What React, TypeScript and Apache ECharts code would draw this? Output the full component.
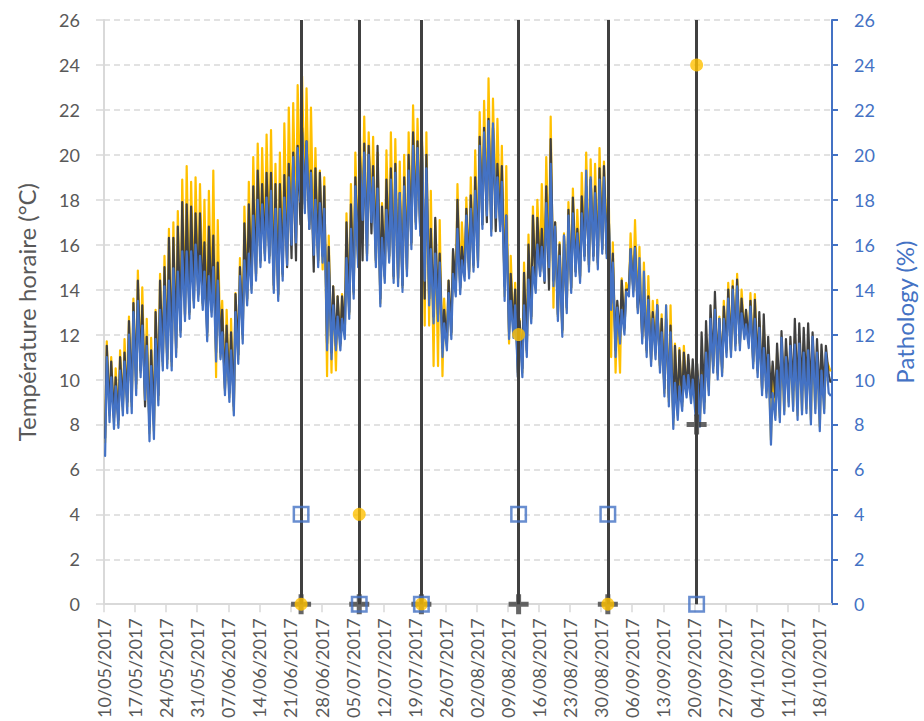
import React, { useEffect, useRef } from "react";
import * as echarts from "echarts";

// Start of the record: 10/05/2017 (day index 0)
const START_UTC = Date.UTC(2017, 4, 10);
const DAY_MS = 86400000;
const X_MAX_DAY = 164;
const TICK_DAYS = 7;

// Daily readings (°C), one value per day: dawn (~06:00) and afternoon (~15:00)
const yellowDawn = [
  7.2, 8.4, 8.1, 8.0, 8.6, 8.8, 8.8, 9.6, 10.3, 9.0,
  7.6, 7.7, 9.1, 10.6, 10.7, 10.6, 11.2, 12.1, 12.8, 12.9,
  13.4, 13.7, 13.3, 11.9, 13.0, 10.1, 11.0, 9.5, 9.2, 8.6,
  10.9, 11.8, 13.5, 14.0, 14.6, 15.2, 15.5, 15.4, 14.0, 13.7,
  14.6, 15.3, 16.2, 16.3, 18.1, 17.6, 16.9, 15.7, 15.2, 14.9,
  10.15, 10.3, 10.4, 11.5, 12.0, 12.9, 13.8, 15.2, 17.3, 15.5,
  17.2, 15.2, 13.4, 14.5, 15.4, 14.5, 14.3, 14.1, 14.8, 16.0,
  16.9, 16.6, 12.4, 12.4, 10.6, 10.6, 10.15, 11.5, 12.0, 13.9,
  14.0, 14.6, 14.7, 15.0, 15.2, 16.9, 17.5, 16.6, 17.4, 16.8,
  13.7, 11.6, 12.0, 10.3, 10.3, 11.2, 12.7, 14.0, 14.8, 14.6,
  15.2, 13.2, 12.8, 12.1, 13.1, 14.0, 14.8, 14.5, 15.5, 15.0,
  15.5, 15.1, 15.8, 15.6, 11.0, 10.3, 10.3, 12.2, 13.9, 13.9,
  13.1, 11.8, 11.2, 10.8, 11.1, 10.5, 9.4, 9.0, 8.0, 8.4,
  8.8, 9.4, 9.1, 8.6, 8.1, 8.7, 9.5, 10.5, 10.2, 10.3,
  11.2, 11.2, 11.5, 11.5, 12.0, 11.6, 10.7, 10.3, 9.5, 9.4,
  7.3, 8.4, 8.3, 8.6, 9.0, 8.8, 8.4, 8.6, 8.7, 8.2,
  8.7, 7.9, 8.7, 10.6,
];
const yellowAfternoon = [
  11.7, 11.0, 10.5, 11.3, 11.8, 12.8, 13.6, 14.85, 14.1, 12.7,
  11.85, 13.1, 14.7, 15.5, 16.7, 17.0, 17.5, 18.9, 19.5, 18.8,
  19.0, 18.7, 18.0, 18.4, 19.3, 17.1, 13.5, 13.1, 12.7, 13.85,
  15.4, 17.7, 18.8, 19.9, 20.5, 20.3, 20.9, 21.1, 19.6, 20.1,
  21.4, 22.1, 22.3, 23.1, 23.5, 22.96, 22.1, 20.3, 19.3, 19.0,
  16.4, 14.15, 13.7, 13.8, 17.4, 18.7, 20.1, 21.0, 21.7, 21.0,
  20.8, 20.1, 17.85, 20.2, 21.0, 20.7, 19.7, 20.0, 21.0, 22.2,
  21.6, 21.0, 21.0, 18.4, 17.1, 17.1, 13.6, 14.4, 15.7, 18.7,
  17.0, 18.1, 19.0, 20.2, 21.9, 22.4, 23.4, 22.5, 21.6, 20.4,
  19.5, 15.5, 14.3, 12.7, 15.2, 16.45, 17.7, 18.0, 18.7, 19.9,
  21.7, 17.0, 16.1, 16.5, 17.9, 18.5, 17.55, 19.2, 20.1, 19.8,
  19.6, 20.3, 19.7, 19.3, 16.1, 13.3, 14.5, 14.3, 16.5, 17.1,
  15.9, 15.2, 14.6, 13.5, 13.55, 12.9, 13.3, 13.3, 11.6, 11.4,
  11.5, 10.9, 10.5, 10.4, 11.0, 11.6, 12.6, 13.3, 12.8, 13.5,
  14.3, 14.4, 14.7, 14.0, 13.1, 13.85, 13.8, 12.6, 12.4, 11.5,
  10.6, 11.2, 11.5, 11.3, 11.5, 11.8, 11.7, 11.6, 11.7, 11.5,
  11.3, 11.0, 10.9, 10.4,
];
const blackDawn = [
  7.4, 8.6, 8.3, 8.2, 8.8, 9.0, 9.0, 9.8, 10.4, 8.8,
  7.9, 8.0, 9.3, 10.8, 10.9, 10.8, 11.4, 12.2, 12.9, 13.0,
  13.5, 13.8, 13.4, 12.1, 13.1, 11.2, 11.2, 9.6, 9.4, 8.8,
  11.1, 12.0, 13.6, 14.2, 14.7, 15.3, 15.6, 15.5, 14.2, 13.8,
  14.7, 15.0, 15.4, 15.3, 16.9, 17.8, 16.7, 14.8, 15.3, 15.5,
  11.6, 11.2, 11.5, 11.6, 12.1, 13.0, 13.9, 15.3, 15.3, 15.6,
  16.5, 15.3, 13.6, 14.6, 15.5, 14.6, 14.5, 14.2, 14.9, 16.1,
  17.0, 16.6, 13.6, 13.6, 12.8, 12.9, 11.4, 11.6, 12.1, 14.0,
  14.1, 14.7, 14.8, 15.1, 15.3, 16.9, 17.0, 16.7, 16.6, 16.9,
  14.15, 12.1, 12.1, 10.1, 10.5, 11.3, 12.8, 14.1, 14.8, 14.3,
  14.0, 14.4, 12.9, 12.2, 13.2, 14.1, 14.8, 14.6, 15.5, 15.1,
  15.5, 15.2, 15.8, 15.6, 13.4, 11.3, 11.9, 12.3, 14.0, 14.0,
  13.2, 11.9, 11.3, 10.9, 11.2, 10.6, 9.6, 9.2, 8.3, 8.7,
  9.0, 9.5, 9.3, 8.9, 8.5, 9.0, 9.7, 10.6, 10.3, 10.5,
  11.3, 11.3, 11.6, 11.6, 12.0, 11.7, 10.8, 10.4, 9.6, 9.5,
  9.2, 9.2, 9.3, 9.4, 9.6, 9.5, 9.3, 9.5, 9.6, 9.3,
  9.5, 9.2, 9.6, 10.2,
];
const blackAfternoon = [
  11.5, 10.8, 10.1, 11.0, 11.2, 12.6, 13.4, 14.4, 13.3, 11.9,
  11.3, 13.0, 14.4, 15.0, 16.3, 16.3, 16.8, 17.9, 17.8, 17.7,
  17.4, 17.4, 16.1, 16.8, 16.4, 15.2, 13.1, 12.4, 12.1, 13.8,
  15.0, 16.95, 17.8, 18.6, 19.3, 18.7, 19.2, 19.2, 18.7, 18.7,
  19.1, 19.6, 20.1, 20.4, 21.2, 20.6, 19.3, 19.4, 19.2, 18.6,
  15.9, 14.15, 13.7, 13.7, 17.0, 17.8, 19.0, 20.2, 20.5, 20.4,
  19.5, 20.4, 17.7, 18.9, 19.4, 19.6, 18.3, 19.0, 20.0, 21.0,
  20.6, 20.6, 20.0, 16.7, 17.2, 15.6, 13.1, 14.4, 15.8, 18.0,
  15.9, 17.6, 18.2, 19.0, 20.8, 21.2, 21.6, 21.2, 19.6, 19.5,
  17.3, 14.7, 14.0, 12.6, 14.75, 16.0, 17.3, 17.2, 16.7, 18.6,
  20.7, 17.0, 16.0, 16.4, 17.55, 18.1, 16.7, 18.15, 18.6, 18.9,
  18.6, 19.4, 19.5, 17.85, 15.6, 13.5, 14.4, 14.0, 15.8, 15.9,
  14.4, 13.55, 13.7, 13.0, 13.3, 12.7, 12.7, 12.4, 11.5, 11.3,
  11.2, 11.1, 10.9, 10.7, 12.1, 12.6, 13.3, 13.9, 12.7, 13.25,
  14.0, 14.15, 14.45, 13.6, 13.1, 13.5, 13.55, 13.0, 12.9, 11.9,
  10.8, 11.6, 12.15, 11.8, 11.9, 12.7, 12.5, 12.3, 12.5, 12.1,
  11.8, 11.55, 11.5, 9.9,
];
const blueDawn = [
  6.6, 8.1, 7.8, 7.85, 8.4, 8.5, 8.5, 9.3, 10.1, 9.1,
  7.25, 7.35, 8.85, 10.4, 10.5, 10.4, 11.0, 11.9, 12.6, 12.7,
  13.2, 13.5, 13.1, 11.7, 12.8, 10.8, 10.9, 9.3, 9.0, 8.4,
  10.7, 11.6, 13.3, 13.85, 14.4, 15.0, 15.3, 15.2, 13.85, 13.5,
  14.4, 15.1, 16.0, 16.1, 17.9, 17.4, 16.7, 15.55, 15.0, 15.2,
  11.3, 10.9, 11.3, 11.3, 11.8, 12.7, 13.6, 15.0, 17.1, 15.3,
  17.0, 15.0, 13.25, 14.3, 15.2, 14.3, 14.15, 13.9, 14.6, 15.8,
  16.7, 16.4, 14.4, 13.3, 12.5, 12.6, 11.0, 11.3, 11.8, 13.7,
  13.8, 14.4, 14.5, 14.8, 15.0, 16.7, 17.3, 16.4, 17.2, 16.6,
  13.5, 11.8, 11.85, 10.1, 10.1, 11.0, 12.5, 13.85, 14.6, 14.4,
  15.0, 14.15, 12.6, 11.9, 12.95, 13.85, 14.6, 14.3, 15.3, 14.8,
  15.3, 14.9, 15.6, 15.4, 13.1, 11.0, 11.6, 12.0, 13.7, 13.7,
  12.95, 11.6, 11.0, 10.6, 10.9, 10.3, 9.25, 8.8, 7.8, 8.2,
  8.6, 9.2, 8.95, 8.4, 7.9, 8.5, 9.3, 10.3, 10.0, 10.15,
  11.0, 11.0, 11.3, 11.3, 11.8, 11.4, 10.5, 10.1, 9.3, 9.2,
  7.1, 8.2, 8.1, 8.45, 8.8, 8.6, 8.2, 8.45, 8.5, 8.0,
  8.5, 7.7, 8.5, 9.4,
];
const blueAfternoon = [
  11.0, 10.1, 9.7, 10.4, 10.8, 12.0, 13.0, 13.5, 12.4, 11.5,
  10.6, 11.8, 13.1, 14.15, 14.4, 14.95, 14.8, 15.7, 15.7, 15.7,
  16.0, 15.5, 14.8, 14.6, 15.0, 14.4, 12.1, 11.6, 11.3, 13.0,
  14.6, 15.3, 15.6, 17.3, 18.0, 17.8, 18.1, 18.4, 17.6, 17.6,
  18.1, 19.0, 19.9, 20.3, 21.0, 20.6, 19.2, 18.0, 17.85, 17.6,
  15.2, 13.3, 12.8, 12.7, 15.4, 16.7, 18.6, 19.8, 20.1, 20.0,
  19.0, 18.5, 16.3, 17.55, 18.9, 19.2, 18.3, 18.6, 19.3, 20.4,
  20.3, 20.4, 19.4, 15.8, 15.6, 15.2, 12.5, 13.85, 14.7, 16.7,
  15.3, 17.3, 17.6, 18.4, 20.4, 21.0, 21.5, 21.4, 19.0, 18.8,
  17.3, 13.5, 13.3, 12.2, 13.3, 14.45, 15.0, 16.0, 15.9, 17.85,
  19.6, 16.8, 15.5, 16.4, 17.3, 17.4, 16.5, 17.4, 19.3, 19.0,
  18.3, 18.9, 19.0, 17.9, 15.2, 13.2, 13.1, 13.9, 15.8, 15.85,
  15.4, 14.8, 13.55, 12.7, 13.3, 12.1, 13.3, 12.1, 9.85, 9.7,
  10.15, 10.2, 10.0, 10.15, 10.2, 11.2, 12.7, 13.1, 12.7, 12.7,
  13.6, 14.0, 14.15, 12.95, 12.45, 13.25, 12.7, 12.3, 11.4, 11.1,
  9.4, 10.4, 11.85, 11.0, 11.5, 11.55, 11.6, 11.2, 11.3, 11.9,
  11.2, 10.4, 11.2, 9.3,
];

// Pathology observations (day index from 10/05/2017, value in %)
const obsDays = [44.4, 57.5, 71.5, 93.4, 113.5, 133.5];
const pathoBlack = [0, 0, 0, 0, 0, 8];
const pathoYellow = [0, 4, 0, 12, 0, 24];
const pathoBlue = [4, 0, 0, 4, 4, 0];

const DAWN_FRACTION = 0.25;
const AFTERNOON_FRACTION = 0.625;

const YELLOW = "#FFC000";
const DARK = "#404040";
const BLUE = "#4472C4";
const GREY_TEXT = "#595959";
const GREY_LINE = "#D9D9D9";
const FONT = "Lato";

function dailyPoints(dawn: number[], afternoon: number[]) {
  const pts: [number, number][] = [];
  for (let i = 0; i < dawn.length; i++) {
    pts.push([i + DAWN_FRACTION, dawn[i]]);
    pts.push([i + AFTERNOON_FRACTION, afternoon[i]]);
  }
  return pts;
}

function pad(n: number) {
  return n < 10 ? "0" + n : String(n);
}

function dayLabel(v: number) {
  const d = new Date(START_UTC + Math.round(v) * DAY_MS);
  return pad(d.getUTCDate()) + "/" + pad(d.getUTCMonth() + 1) + "/" + d.getUTCFullYear();
}

const PLUS_PATH = "path://M7.5,0H12.5V7.5H20V12.5H12.5V20H7.5V12.5H0V7.5H7.5Z";

export default function App() {
  const ref = useRef<HTMLDivElement>(null);

  useEffect(() => {
    if (!ref.current) return;
    const chart = echarts.init(ref.current, undefined, { renderer: "svg" });

    const tempLine = (name: string, color: string, dawn: number[], aft: number[], z: number) => ({
      name,
      type: "line",
      data: dailyPoints(dawn, aft),
      showSymbol: false,
      symbol: "none",
      silent: true,
      z,
      lineStyle: { color, width: 2.2, join: "round", cap: "round" },
      itemStyle: { color },
    });

    chart.setOption({
      animation: false,
      textStyle: { fontFamily: FONT },
      grid: { left: 104, right: 90, top: 20, bottom: 116, containLabel: false },
      xAxis: {
        type: "value",
        min: 0,
        max: X_MAX_DAY,
        interval: TICK_DAYS,
        axisLine: { show: true, onZero: false, lineStyle: { color: GREY_LINE, width: 2 } },
        axisTick: { show: true, length: 8, lineStyle: { color: GREY_LINE, width: 1.5 } },
        axisLabel: {
          rotate: 90,
          margin: 14,
          color: GREY_TEXT,
          fontFamily: FONT,
          fontSize: 18,
          formatter: dayLabel,
          showMaxLabel: false,
          showMinLabel: true,
        },
        splitLine: { show: false },
      },
      yAxis: [
        {
          type: "value",
          min: 0,
          max: 26,
          interval: 2,
          position: "left",
          name: "Température horaire (°C)",
          nameLocation: "middle",
          nameGap: 66,
          nameRotate: 90,
          nameTextStyle: { color: GREY_TEXT, fontFamily: FONT, fontSize: 24 },
          axisLine: { show: true, lineStyle: { color: GREY_LINE, width: 2 } },
          axisTick: { show: true, length: 8, lineStyle: { color: GREY_LINE, width: 1.5 } },
          axisLabel: { margin: 24, color: GREY_TEXT, fontFamily: FONT, fontSize: 18 },
          splitLine: { show: true, lineStyle: { color: GREY_LINE, width: 1.5, type: [6, 4] } },
        },
        {
          type: "value",
          min: 0,
          max: 26,
          interval: 2,
          position: "right",
          name: "Pathology (%)",
          nameLocation: "middle",
          nameGap: 60,
          nameRotate: 90,
          nameTextStyle: { color: BLUE, fontFamily: FONT, fontSize: 24 },
          axisLine: { show: true, lineStyle: { color: BLUE, width: 2 } },
          axisTick: { show: true, length: 6, lineStyle: { color: BLUE, width: 2 } },
          axisLabel: { margin: 22, color: BLUE, fontFamily: FONT, fontSize: 18 },
          splitLine: { show: false },
        },
      ],
      series: [
        tempLine("Yellow", YELLOW, yellowDawn, yellowAfternoon, 2),
        tempLine("Dark", DARK, blackDawn, blackAfternoon, 3),
        tempLine("Blue", BLUE, blueDawn, blueAfternoon, 4),
        {
          name: "Pathology dark",
          type: "scatter",
          yAxisIndex: 1,
          clip: false,
          silent: true,
          z: 6,
          symbol: PLUS_PATH,
          symbolSize: 20,
          itemStyle: { color: DARK },
          data: obsDays.map((d, i) => [d, pathoBlack[i]]),
          markLine: {
            silent: true,
            symbol: ["none", "none"],
            label: { show: false },
            z: 5,
            lineStyle: { color: DARK, width: 3, type: "solid" },
            emphasis: { disabled: true },
            data: obsDays.map((d) => ({ xAxis: d })),
          },
        },
        {
          name: "Pathology yellow",
          type: "scatter",
          yAxisIndex: 1,
          clip: false,
          silent: true,
          z: 7,
          symbol: "circle",
          symbolSize: 13,
          itemStyle: { color: YELLOW },
          data: obsDays.map((d, i) => [d, pathoYellow[i]]),
        },
        {
          name: "Pathology blue",
          type: "scatter",
          yAxisIndex: 1,
          clip: false,
          silent: true,
          z: 8,
          symbol: "rect",
          symbolSize: 14.5,
          itemStyle: { color: "rgba(0,0,0,0)", borderColor: BLUE, borderWidth: 2.5 },
          data: obsDays.map((d, i) => [d, pathoBlue[i]]),
        },
      ],
    });

    return () => chart.dispose();
  }, []);

  return (
    <div
      ref={ref}
      style={{ position: "absolute", left: 0, top: 0, width: 924, height: 721, background: "#fff" }}
    />
  );
}
